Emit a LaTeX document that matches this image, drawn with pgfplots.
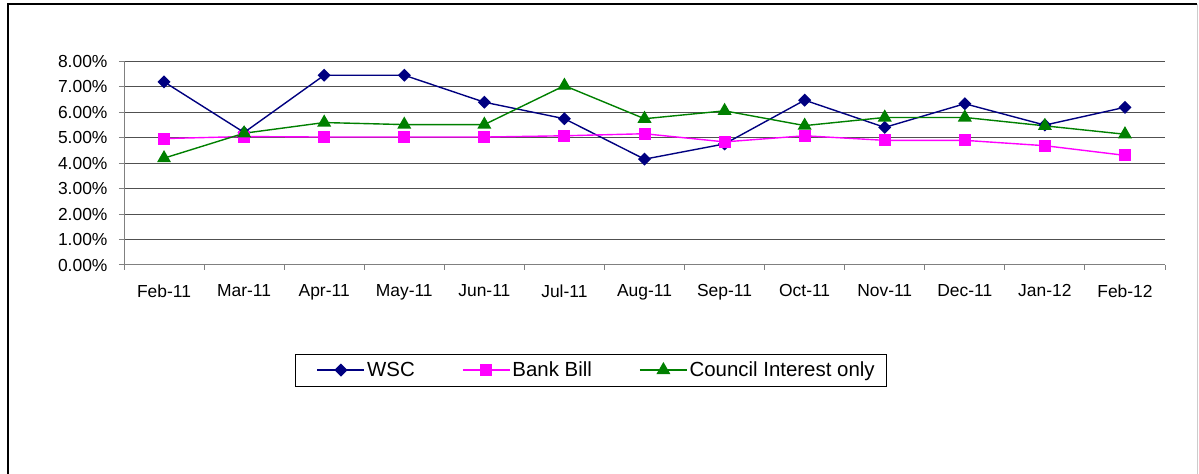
\documentclass[border=0pt]{standalone}
\usepackage{pgfplots}
\pgfplotsset{compat=1.18}
\usepackage{fontspec}
\setmainfont{Liberation Sans}
\definecolor{wsc}{RGB}{0,0,128}
\definecolor{bank}{RGB}{255,0,255}
\definecolor{council}{RGB}{0,128,0}
\definecolor{gridc}{RGB}{80,80,80}
\definecolor{axc}{RGB}{128,128,128}
\begin{document}
\begin{tikzpicture}
\useasboundingbox (0,0) rectangle (1199bp,474bp);
\fill[white] (0,0) rectangle (1199bp,474bp);
\draw[black, line width=1.2bp] (8bp,0) -- (8bp,470bp) -- (1197bp,470bp);
\draw[black!20, line width=1bp] (1197.5bp,470bp) -- (1197.5bp,0);
\begin{axis}[
  at={(124bp,209bp)}, anchor=south west,
  scale only axis, width=1041bp, height=203.5bp,
  xmin=-0.5, xmax=12.5, ymin=0, ymax=8,
  axis lines*=left,
  axis line style={axc, line width=1bp},
  xtick={-0.5,0.5,...,12.5},
  x tick label as interval,
  xticklabels={Feb-11,Mar-11,Apr-11,May-11,Jun-11,Jul-11,Aug-11,Sep-11,Oct-11,Nov-11,Dec-11,Jan-12,Feb-12},
  ytick={0,1,...,8},
  yticklabel={\pgfmathprintnumber[fixed,fixed zerofill,precision=2]{\tick}\%},
  /pgf/number format/assume math mode=true,
  tick align=outside, major tick length=5bp,
  tick style={axc, line width=1bp},
  ymajorgrids, grid style={gridc, line width=1bp},
  ticklabel style={font=\fontsize{17.5}{20}\selectfont},
  xticklabel style={yshift=-11bp},
  yticklabel style={xshift=-8bp},
  legend columns=3,
  legend style={at={(axis description cs:0.1643,-0.435)}, anchor=north west,
    draw=black, line width=0.8bp, font=\fontsize{20.5}{24}\selectfont,
    inner xsep=10bp, inner ysep=6bp,
    /tikz/every even column/.append style={column sep=34bp}},
  legend image code/.code={\path[draw=none,fill=none] (0bp,0bp) -- (12bp,0bp);\draw[mark repeat=2,mark phase=2] plot coordinates {(12bp,0bp) (35.5bp,0bp) (59bp,0bp)};},
  clip=false,
]
\addplot[wsc, line width=1.4bp, mark=square*, mark size=3.9bp, mark options={solid, fill=wsc, rotate=45}] coordinates {
(0,7.20) (1,5.21) (2,7.46) (3,7.46) (4,6.40) (5,5.75) (6,4.16) (7,4.76) (8,6.48) (9,5.41) (10,6.34) (11,5.50) (12,6.20)};
\addlegendentry{WSC}
\addplot[bank, line width=1.4bp, mark=square*, mark size=5.3bp, mark options={solid, fill=bank}] coordinates {
(0,4.97) (1,5.05) (2,5.03) (3,5.03) (4,5.03) (5,5.08) (6,5.16) (7,4.84) (8,5.08) (9,4.90) (10,4.90) (11,4.69) (12,4.31)};
\addlegendentry{Bank Bill}
\addplot[council, line width=1.4bp, mark=triangle*, mark size=6.7bp, mark options={solid, fill=council}] coordinates {
(0,4.20) (1,5.18) (2,5.60) (3,5.52) (4,5.52) (5,7.05) (6,5.75) (7,6.06) (8,5.48) (9,5.80) (10,5.80) (11,5.47) (12,5.14)};
\addlegendentry{Council Interest only}
\end{axis}
\end{tikzpicture}
\end{document}
